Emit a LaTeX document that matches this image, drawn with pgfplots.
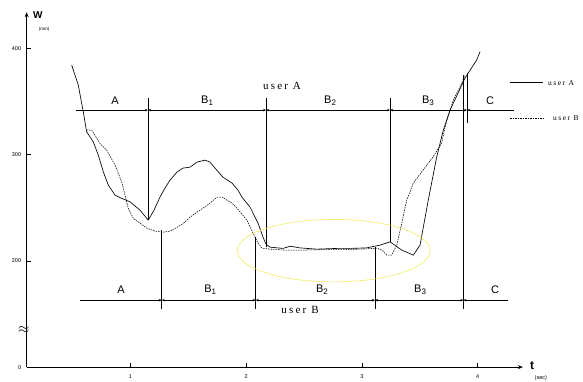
\documentclass[border=0pt]{standalone}
\usepackage{fontspec}
\setmainfont{Liberation Sans}
\newfontfamily\userfont[LetterSpace=20]{Liberation Serif}
\usepackage{pgfplots}
\pgfplotsset{compat=1.18}
\usetikzlibrary{arrows.meta}
\definecolor{ellcol}{RGB}{238,232,60}
\newcommand{\lab}[1]{\fontsize{11}{13}\selectfont #1}
\newcommand{\Bs}[1]{\fontsize{11}{13}\selectfont B\raisebox{-2pt}{\fontsize{8}{9}\selectfont #1}}
\begin{document}
\begin{tikzpicture}
\begin{axis}[
  scale only axis, width=496pt, height=354.7pt,
  xmin=0.105, xmax=4.39, ymin=100, ymax=434,
  axis lines=left,
  axis line style={line width=0.7pt, -{Stealth[length=5pt,width=4pt]}},
  clip=false,
  xtick={1,2,3,4}, ytick={100,200,300,400}, yticklabels={0,200,300,400},
  tick align=inside, major tick length=4pt,
  tick style={black, line width=0.5pt},
  ticklabel style={font=\fontsize{5.5}{6}\selectfont},
  /pgf/number format/assume math mode=true,
  xticklabel style={yshift=-4pt},
  yticklabel style={xshift=-2pt},
]
% user A (solid)
\addplot[black, line width=0.65pt] coordinates {
(0.494,384.3) (0.551,365.4) (0.594,340.3) (0.623,321.5) (0.680,312.1) (0.724,299.5)
(0.767,283.8) (0.810,271.3) (0.868,261.9) (0.926,258.8) (0.997,255.6) (1.084,247.7)
(1.155,238.3) (1.205,247.7) (1.256,260.0) (1.300,268.5) (1.343,276.0) (1.403,283.5)
(1.455,287.3) (1.516,288.2) (1.576,292.9) (1.645,294.8) (1.688,292.9) (1.731,287.3)
(1.800,278.8) (1.878,273.2) (1.930,266.6) (1.964,260.0) (2.034,250.6) (2.103,235.5)
(2.146,222.3) (2.172,215.7) (2.207,212.9) (2.319,211.7) (2.380,213.8) (2.466,212.2)
(2.610,211.0) (2.782,211.7) (2.897,211.7) (3.041,212.2) (3.156,214.8) (3.243,217.9)
(3.344,210.1) (3.444,205.4) (3.502,214.8) (3.573,257.2) (3.646,297.9) (3.703,323.1)
(3.761,341.9) (3.830,357.9) (3.890,372.0) (3.991,389.0) (4.020,396.9)
};
% user B (dashed)
\addplot[black, line width=0.55pt, dash pattern=on 1.5pt off 1pt] coordinates {
(0.623,323.1) (0.667,323.1) (0.738,310.5) (0.796,304.2) (0.868,290.1) (0.926,274.4)
(0.954,261.9) (0.983,249.3) (1.026,239.9) (1.084,235.5) (1.142,230.8) (1.213,228.0)
(1.282,227.0) (1.345,228.0) (1.406,231.7) (1.472,236.4) (1.516,241.1) (1.576,245.9)
(1.628,249.6) (1.688,254.3) (1.749,260.0) (1.792,260.0) (1.835,257.2) (1.878,254.3)
(1.921,249.6) (1.964,244.0) (2.008,238.3) (2.060,226.1) (2.103,216.7) (2.137,212.0)
(2.207,211.0) (2.336,210.1) (2.466,210.1) (2.638,210.5) (2.811,210.5) (2.984,211.0)
(3.070,211.5) (3.130,212.0) (3.174,210.1) (3.214,205.4) (3.257,205.4) (3.301,214.8)
(3.344,235.5) (3.387,257.2) (3.444,273.2) (3.528,285.4) (3.614,297.9) (3.689,310.8)
(3.718,326.2) (3.789,351.3) (3.847,363.8) (3.890,374.9)
};
% user A segments
\def\ya{341.9}
\def\yb{163}
\tikzset{arr/.style={line width=0.55pt}}
\draw[arr,-{Stealth[length=3pt,width=2.5pt]}] (axis cs:0.531,\ya) -- (axis cs:1.153,\ya);
\draw[arr,{Stealth[length=3pt,width=2.5pt]}-{Stealth[length=3pt,width=2.5pt]}] (axis cs:1.153,\ya) -- (axis cs:2.172,\ya);
\draw[arr,{Stealth[length=3pt,width=2.5pt]}-{Stealth[length=3pt,width=2.5pt]}] (axis cs:2.172,\ya) -- (axis cs:3.243,\ya);
\draw[arr,{Stealth[length=3pt,width=2.5pt]}-{Stealth[length=3pt,width=2.5pt]}] (axis cs:3.243,\ya) -- (axis cs:3.908,\ya);
\draw[arr,{Stealth[length=3pt,width=2.5pt]}-] (axis cs:3.908,\ya) -- (axis cs:4.31,\ya);
\draw[arr] (axis cs:1.153,353.2) -- (axis cs:1.153,238.3);
\draw[arr] (axis cs:2.172,353.2) -- (axis cs:2.172,213.5);
\draw[arr] (axis cs:3.243,353.2) -- (axis cs:3.243,217.9);
\draw[arr] (axis cs:3.908,376.7) -- (axis cs:3.908,329.7);
% user B segments
\draw[arr,-{Stealth[length=3pt,width=2.5pt]}] (axis cs:0.566,\yb) -- (axis cs:1.271,\yb);
\draw[arr,{Stealth[length=3pt,width=2.5pt]}-{Stealth[length=3pt,width=2.5pt]}] (axis cs:1.271,\yb) -- (axis cs:2.083,\yb);
\draw[arr,{Stealth[length=3pt,width=2.5pt]}-{Stealth[length=3pt,width=2.5pt]}] (axis cs:2.083,\yb) -- (axis cs:3.113,\yb);
\draw[arr,{Stealth[length=3pt,width=2.5pt]}-{Stealth[length=3pt,width=2.5pt]}] (axis cs:3.113,\yb) -- (axis cs:3.876,\yb);
\draw[arr,{Stealth[length=3pt,width=2.5pt]}-] (axis cs:3.876,\yb) -- (axis cs:4.26,\yb);
\draw[arr] (axis cs:1.271,229) -- (axis cs:1.271,154.5);
\draw[arr] (axis cs:2.083,222.6) -- (axis cs:2.083,154.5);
\draw[arr] (axis cs:3.113,213.2) -- (axis cs:3.113,154.5);
\draw[arr] (axis cs:3.876,374.9) -- (axis cs:3.876,154.5);
% segment labels
\node at (axis cs:0.869,350.4) {\lab{A}};
\node at (axis cs:1.663,350.4) {\Bs{1}};
\node at (axis cs:2.725,350.4) {\Bs{2}};
\node at (axis cs:3.571,350.4) {\Bs{3}};
\node at (axis cs:4.106,350.4) {\lab{C}};
\node at (axis cs:0.92,172.4) {\lab{A}};
\node at (axis cs:1.69,172.4) {\Bs{1}};
\node at (axis cs:2.655,172.4) {\Bs{2}};
\node at (axis cs:3.502,172.4) {\Bs{3}};
\node at (axis cs:4.15,172.4) {\lab{C}};
\node at (axis cs:2.31,364.5) {\userfont\fontsize{11}{13}\selectfont user A};
\node at (axis cs:2.466,153.6) {\userfont\fontsize{11}{13}\selectfont user B};
% ellipse
\draw[ellcol, line width=0.7pt, dash pattern=on 1pt off 0.6pt] (axis cs:2.757,209.6) ellipse [x radius=0.832, y radius=29.4];
% legend
\draw[black, line width=0.6pt] (axis cs:4.279,367.6) -- (axis cs:4.564,367.6);
\draw[black, line width=0.5pt, dash pattern=on 1.5pt off 1pt] (axis cs:4.279,334.1) -- (axis cs:4.564,334.1);
\node[anchor=west, inner sep=0pt] at (axis cs:4.607,367.6) {\userfont\fontsize{7.5}{9}\selectfont user A};
\node[anchor=west, inner sep=0pt] at (axis cs:4.65,334.1) {\userfont\fontsize{7.5}{9}\selectfont user B};
% axis labels
\node[anchor=west, inner sep=0pt] at (axis cs:0.16,431.4) {\fontsize{10}{12}\selectfont\bfseries W};
\node[anchor=west, inner sep=0pt] at (axis cs:0.21,418.2) {\fontsize{4.5}{5}\selectfont (mm)};
\node[anchor=west, inner sep=0pt] at (axis cs:4.45,101.8) {\fontsize{12}{14}\selectfont\bfseries t};
\node[anchor=west, inner sep=0pt] at (axis cs:4.49,89.5) {\fontsize{5.5}{6}\selectfont (sec)};
% axis break
\node[inner sep=0pt] at (axis cs:0.08,134.6) {\fontsize{14}{16}\selectfont$\approx$};
\coordinate (bbsw) at (axis cs:-0.125,86.7);
\coordinate (bbne) at (axis cs:4.909,445.5);
\end{axis}
\pgfresetboundingbox
\path[use as bounding box] (bbsw) rectangle (bbne);
\end{tikzpicture}
\end{document}
